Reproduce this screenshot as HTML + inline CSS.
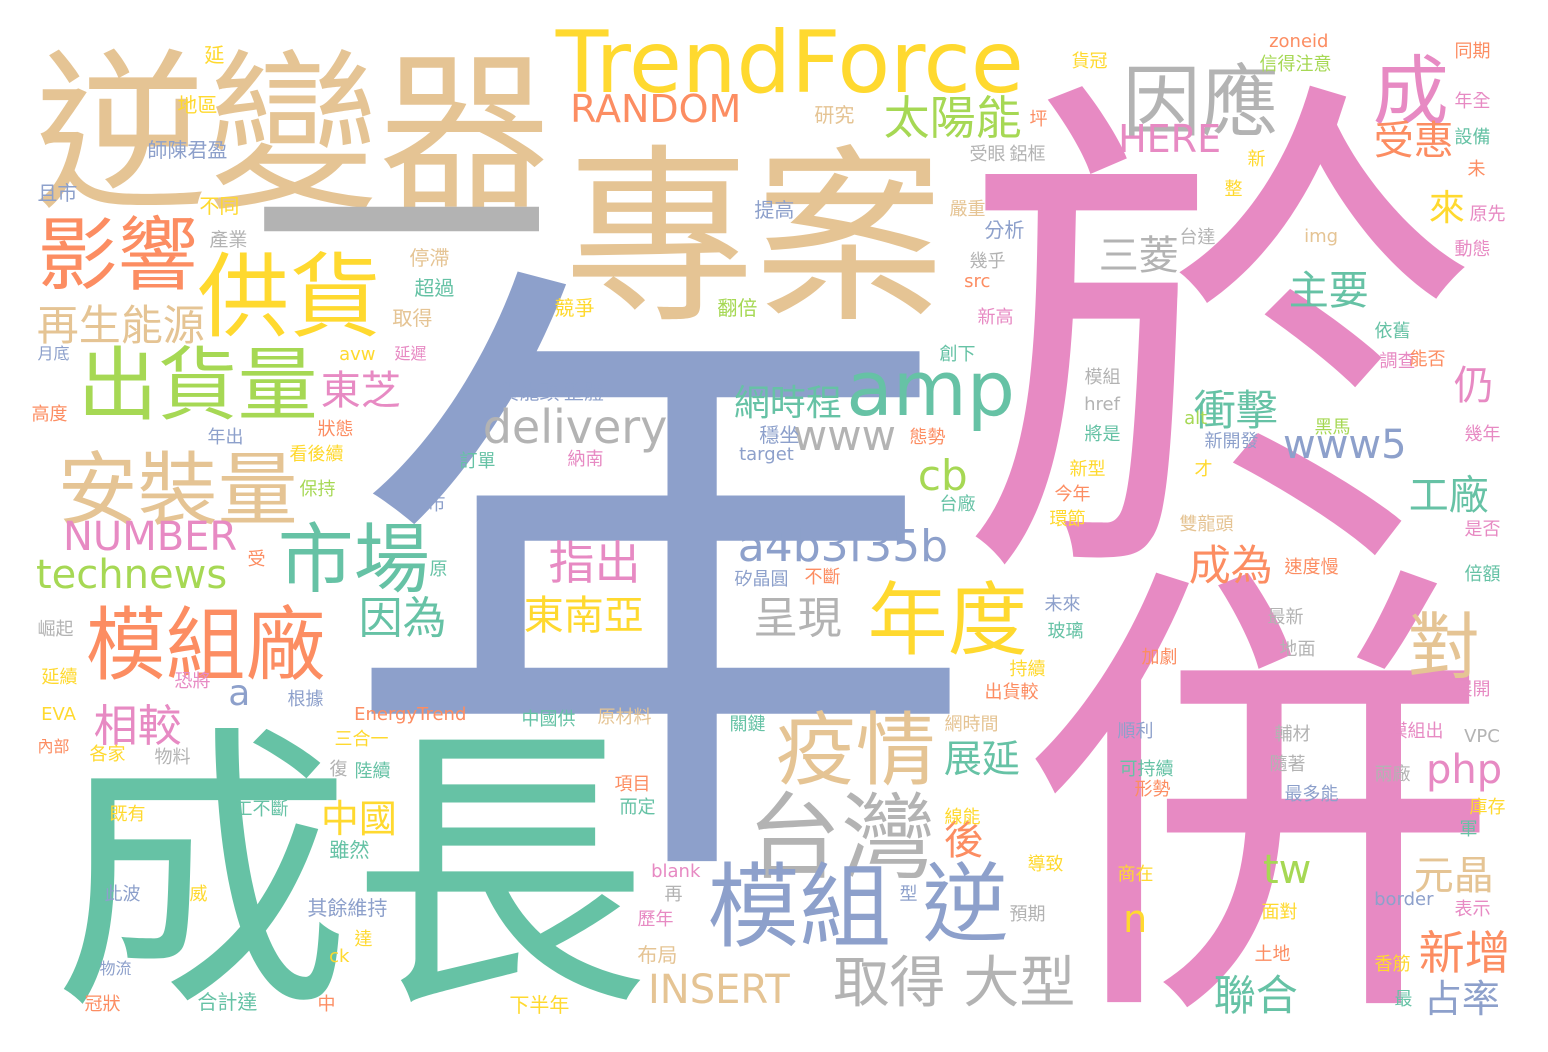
<!DOCTYPE html>
<html><head><meta charset="utf-8">
<style>
html,body{margin:0;padding:0;background:#fff;}
#cloud{position:relative;width:1548px;height:1052px;overflow:hidden;background:#fff;}
#cloud span{position:absolute;white-space:nowrap;line-height:1;}
.cjk{font-family:"Noto Sans CJK TC","WenQuanYi Zen Hei",sans-serif;}
.lat{font-family:"DejaVu Sans","Liberation Sans",sans-serif;}
</style></head>
<body>
<div id="cloud"></div>
<script>
// word cloud data: words, relative sizes (px), colour index, ink-box positions
const words = ["年","於","併","成長","專案","逆變器","一","TrendForce","因應","成","影響","供貨","出貨量","再生能源","安裝量","NUMBER","technews","市場","模組廠","相較","a","amp","delivery","www","網時程","東芝","cb","a4b3f35b","指出","因為","東南亞","呈現","年度","對","成為","疫情","台灣","模組","逆","取得","大型","INSERT","太陽能","RANDOM","HERE","受惠","來","三菱","主要","仍","衝擊","www5","工廠","php","元晶","新增","占率","聯合","tw","n","展延","後","中國",
"延","地區","師陳君盈","且市","不同","產業","停滯","超過","取得","競爭","翻倍","月底","延遲","avw","高度","年出","狀態","看後續","保持","市","訂單","貨龍頭 整體","穩坐","target","納南","研究","受眼 鋁框","提高","嚴重","分析","幾乎","src","新高","創下","原","受","崛起","延續","恐將","根據","EnergyTrend","三合一","復","陸續","EVA","內部","各家","物料","既有","工不斷","雖然","此波","威","其餘維持","達","ck","物流","冠狀","合計達","中","下半年","布局","歷年","再","blank","型","而定","項目","中國供","原材料","關鍵","網時間","線能","出貨較","持續","可持續","形勢","順利","加劇","地面","最新","未來","玻璃","速度慢","雙龍頭","是否","倍額","今年","環節","新型","才","新開發","將是","href","alt","黑馬","幾年","模組","調查","依舊","能否","台達","img","動態","原先","未","設備","年全","新","整","坪","zoneid","信得注意","貨冠","同期","輔材","隨著","最多能","兩廠","模組出","VPC","展開","庫存","軍","表示","border","面對","土地","香筋","最","商在","導致","預期","台廠","不斷","矽晶圓","態勢"];
const sizes = [638,520,470,298,190,172,300,86,78,76,80,92,80,42,80,40,40,76,80,44,36,76,46,42,36,40,42,44,46,44,40,44,80,72,42,80,94,92,86,56,56,40,46,38,38,40,36,40,40,40,42,40,40,40,40,46,38,42,40,38,38,40,38,
20,20,20,20,20,19,20,20,20,20,20,16,16,18,18,18,18,18,18,18,18,20,20,18,18,20,18,20,18,20,18,18,18,18,18,18,18,18,18,18,18,18,18,18,18,16,18,18,18,18,20,18,18,20,18,18,16,18,20,18,20,20,18,18,18,18,18,18,18,18,18,18,18,18,18,18,18,18,18,18,18,18,18,18,18,18,18,18,18,18,18,18,18,18,18,18,18,18,18,18,18,18,18,18,18,18,18,18,18,18,18,18,18,18,18,18,18,18,18,18,18,18,18,18,18,18,18,18,18,18,18,18,18,18,18,18,18,18,18];
const colorIdx = [2,3,3,0,6,6,7,5,7,3,1,5,4,6,6,3,4,0,1,3,2,0,7,7,0,3,4,2,3,0,5,7,5,6,1,6,7,2,2,7,7,6,4,1,3,1,5,7,0,3,0,2,0,3,6,1,2,0,4,5,0,1,5,
5,5,2,2,5,7,6,0,6,5,4,2,3,5,1,2,1,5,4,2,0,2,2,2,3,6,7,2,6,2,7,1,3,0,0,1,7,5,3,2,1,5,7,0,5,1,5,7,5,0,0,2,5,2,5,5,2,1,0,1,5,6,3,7,3,2,0,1,0,6,0,6,5,1,5,0,1,2,1,7,7,2,0,1,6,3,0,1,5,5,5,2,0,7,4,4,3,7,3,0,1,7,6,3,3,1,0,3,5,5,1,1,4,5,1,7,7,2,7,3,7,3,5,0,3,2,5,1,5,0,5,5,7,0,1,2,1,1,6];
const inkX = [360,975,1040,62,570,40,263,560,1125,1375,40,200,80,38,60,65,38,280,88,95,230,850,485,795,735,322,920,740,550,360,525,755,870,1410,1190,778,750,710,925,835,965,650,885,572,1120,1375,1430,1100,1290,1455,1195,1285,1410,1428,1415,1420,1425,1215,1265,1125,945,945,322,
205,178,148,38,200,210,410,415,393,555,718,38,395,340,32,208,318,290,300,428,460,500,760,740,568,815,970,755,950,985,970,965,978,940,430,248,38,42,175,288,355,335,330,355,42,38,90,155,110,235,330,105,190,308,355,330,100,85,198,318,510,638,638,665,652,900,620,615,522,598,730,945,945,985,1010,1120,1135,1118,1142,1280,1268,1045,1048,1285,1180,1465,1465,1055,1050,1070,1195,1205,1085,1085,1185,1315,1465,1085,1380,1375,1410,1180,1305,1455,1470,1468,1455,1455,1248,1225,1030,1270,1260,1072,1455,1275,1270,1285,1375,1390,1465,1455,1470,1460,1455,1375,1262,1255,1375,1395,1118,1028,1010,940,805,735,910];
const inkY = [258,75,560,720,140,45,188,30,62,52,215,250,345,305,450,522,560,520,605,703,680,360,410,420,385,370,460,530,540,595,595,595,580,610,545,710,790,860,860,955,955,975,95,95,125,120,190,235,270,365,390,430,475,755,855,930,980,975,855,905,740,820,800,
45,95,140,183,196,230,248,278,308,298,298,345,345,348,405,428,420,445,480,495,452,382,425,448,450,105,145,200,200,220,252,275,308,345,560,550,620,668,672,690,708,730,760,762,708,738,745,748,805,800,840,885,885,898,930,950,960,995,992,995,995,945,910,885,865,885,798,775,710,708,715,715,808,683,660,760,780,722,648,640,608,595,622,558,515,520,565,485,510,460,460,432,425,398,412,418,425,368,352,322,350,228,230,240,205,160,128,92,150,180,110,35,55,52,42,725,755,785,765,722,730,680,798,820,900,893,903,945,955,990,865,855,905,495,568,570,428];
const palette = ["#66c2a5","#fc8d62","#8da0cb","#e78ac3","#a6d854","#ffd92f","#e5c494","#b3b3b3"];

const cloud = document.getElementById('cloud');
const isLatin = s => /^[\x00-\x7f ]+$/.test(s);
for (let i = 0; i < words.length; i++) {
  const w = words[i], s = sizes[i];
  const el = document.createElement('span');
  el.textContent = w;
  
  
  el.style.fontSize = s + 'px';
  el.style.color = palette[colorIdx[i]];
  if (isLatin(w)) {
    el.className = 'lat';
    el.style.left = (inkX[i] - 0.05 * s) + 'px';
    el.style.top = (inkY[i] - 0.12 * s) + 'px';
  } else if (w === '一') {
    el.className = 'cjk';
    el.style.left = (inkX[i] - 0.04 * s) + 'px';
    el.style.top = (inkY[i] - 0.44 * s) + 'px';
  } else {
    el.className = 'cjk';
    el.style.left = (inkX[i] - 0.03 * s) + 'px';
    el.style.top = (inkY[i] - 0.07 * s) + 'px';
  }
  cloud.appendChild(el);
}
</script>
</body></html>
